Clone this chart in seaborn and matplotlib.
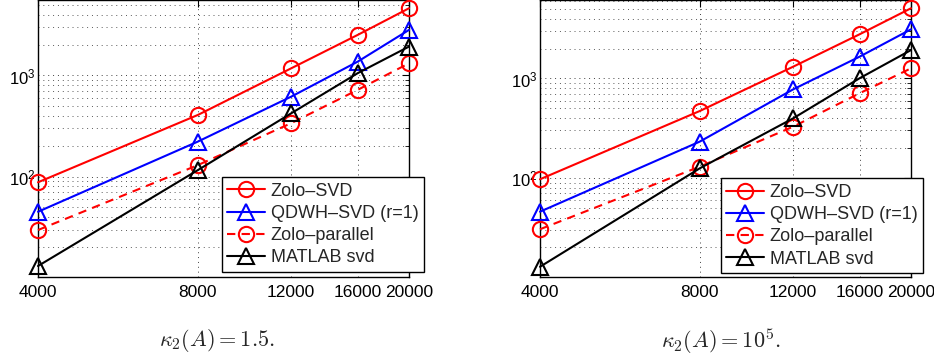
import numpy as np
import pandas as pd
import matplotlib
matplotlib.use("Agg")
import matplotlib.pyplot as plt
import seaborn as sns
from matplotlib.ticker import FixedLocator, NullLocator, LogLocator, FixedFormatter

sns.set_theme(style="white")
plt.rcParams['font.family'] = ['Liberation Sans', 'DejaVu Sans']
plt.rcParams['mathtext.fontset'] = 'cm'

# ---- data ----
sizes = [4000, 8000, 12000, 16000, 20000]
xtick_labels = ["4000", "8000", "12000", "16000", "20000"]
series_names = ["Zolo\u2013SVD", "QDWH\u2013SVD (r=1)", "Zolo\u2013parallel", "MATLAB svd"]

# kappa_2(A) = 1.5
left_zolo_svd = [88, 407, 1178, 2513, 4616]
left_qdwh_svd = [45, 222, 618, 1368, 2820]
left_zolo_par = [29.7, 130, 338, 720, 1320]
left_matlab_svd = [13.1, 116, 423, 1052, 1930]

# kappa_2(A) = 1e5
right_zolo_svd = [97, 471, 1315, 2780, 5080]
right_qdwh_svd = [45.8, 232, 778, 1656, 3120]
right_zolo_par = [30.5, 130, 328, 710, 1265]
right_matlab_svd = [12.8, 125, 398, 1005, 1930]

captions = [r"$\kappa_2(A) = 1.5.$", r"$\kappa_2(A) = 10^5.$"]

styles = [
    dict(color="#ff0000", marker="o", linestyle="-"),
    dict(color="#0000ff", marker="^", linestyle="-"),
    dict(color="#ff0000", marker="o", linestyle=(0, (4, 3))),
    dict(color="#000000", marker="^", linestyle="-"),
]

fig = plt.figure(figsize=(9.34, 3.55), dpi=100)
W, H = 934, 355

panels = [
    dict(left=38, right=409, series=[left_zolo_svd, left_qdwh_svd, left_zolo_par, left_matlab_svd],
         ylim=(10.2, 5570), leg=(1.040, 0.019), cap_x=217),
    dict(left=540, right=911, series=[right_zolo_svd, right_qdwh_svd, right_zolo_par, right_matlab_svd],
         ylim=(10.1, 6150), leg=(1.032, 0.0144), cap_x=721),
]

for i, p in enumerate(panels):
    ax = fig.add_axes([p["left"] / W, 1 - 277 / H, (p["right"] - p["left"]) / W, 277 / H])
    ax.set_xscale("log")
    ax.set_yscale("log")
    for name, vals, st in zip(series_names, p["series"], styles):
        df = pd.DataFrame({"n": sizes, "t": vals})
        sns.lineplot(data=df, x="n", y="t", ax=ax, color=st["color"], marker=st["marker"],
                     linestyle=st["linestyle"], linewidth=1.5, markersize=11 if st["marker"] == "o" else 12,
                     markerfacecolor="none", markeredgecolor=st["color"], markeredgewidth=1.5,
                     label=name, legend=False, clip_on=False, zorder=3)
    ax.set_xlim(sizes[0], sizes[-1])
    ax.set_ylim(*p["ylim"])
    ax.xaxis.set_major_locator(FixedLocator(sizes))
    ax.xaxis.set_major_formatter(FixedFormatter(xtick_labels))
    ax.xaxis.set_minor_locator(NullLocator())
    ax.yaxis.set_major_locator(FixedLocator([100, 1000]))
    ax.yaxis.set_major_formatter(FixedFormatter([r"$\mathregular{10^2}$", r"$\mathregular{10^3}$"]))
    ax.yaxis.set_minor_locator(LogLocator(base=10, subs=np.arange(2, 10), numticks=20))
    ax.set_xlabel("")
    ax.set_ylabel("")
    ax.tick_params(axis="both", which="both", direction="in", top=True, right=True,
                   colors="black", labelsize=12.5)
    ax.tick_params(axis="y", which="major", length=5, width=0.8, pad=2, labelsize=12)
    ax.tick_params(axis="y", which="minor", length=3, width=0.6)
    ax.tick_params(axis="x", which="major", length=5, width=0.8, pad=6)
    for s in ax.spines.values():
        s.set_color("black")
        s.set_linewidth(1.0)
    ax.grid(True, which="major", axis="both", color="0.25", linestyle=(0, (1, 4)), linewidth=0.7)
    ax.grid(True, which="minor", axis="y", color="0.35", linestyle=(0, (1, 4)), linewidth=0.7)
    ax.set_axisbelow(True)
    leg = ax.legend(loc="lower right", bbox_to_anchor=p["leg"], borderaxespad=0, fontsize=13,
                    frameon=True, fancybox=False, framealpha=1, edgecolor="black",
                    handlelength=2.1, handletextpad=0.3, labelspacing=0.29, borderpad=0.3,
                    numpoints=1)
    leg.get_frame().set_linewidth(1.0)
    leg.set_zorder(5)
    fig.text(p["cap_x"] / W, 1 - 341 / H, captions[i], ha="center", va="center",
             fontsize=16)

fig.savefig("out.png", dpi=100)
